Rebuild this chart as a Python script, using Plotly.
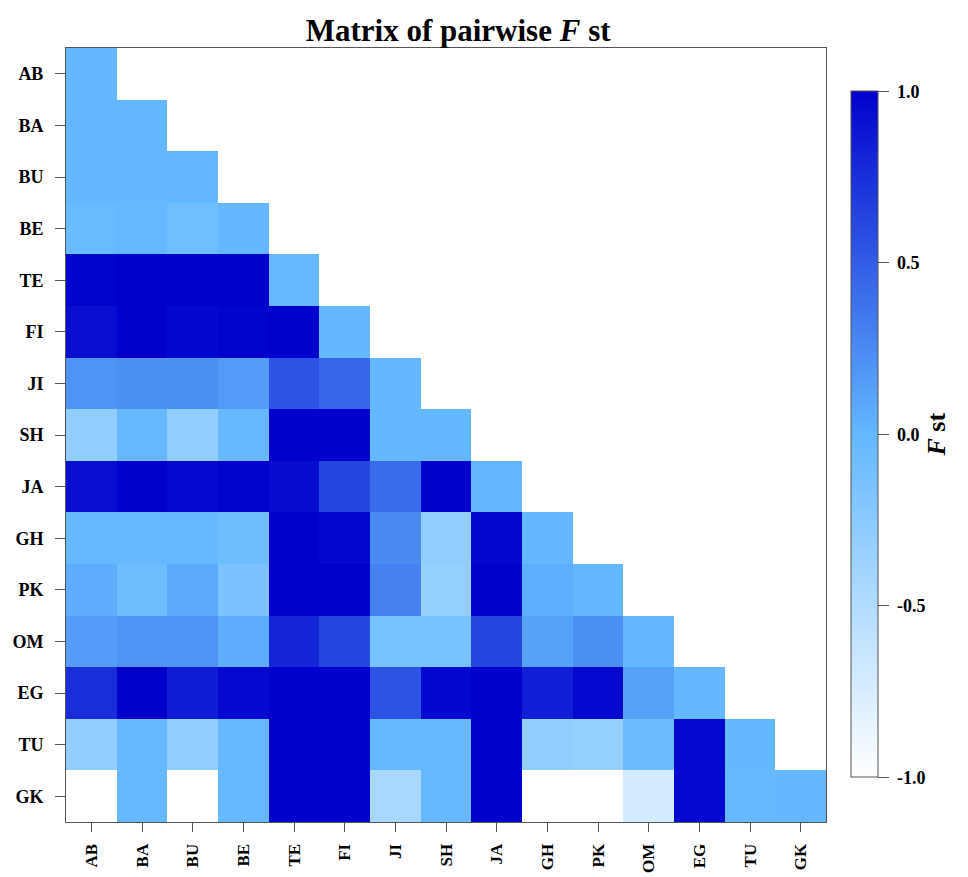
import plotly.graph_objects as go

pops = ["AB", "BA", "BU", "BE", "TE", "FI", "JI", "SH", "JA", "GH", "PK", "OM", "EG", "TU", "GK"]

# lower-triangular pairwise Fst rows (row i has i+1 values)
row_AB = [0.0]
row_BA = [0.0, 0.0]
row_BU = [0.0, 0.0, 0.0]
row_BE = [-0.04, -0.02, -0.08, 0.0]
row_TE = [0.99, 1.0, 1.0, 1.0, -0.02]
row_FI = [0.93, 1.0, 0.96, 0.98, 1.0, 0.0]
row_JI = [0.2, 0.22, 0.22, 0.16, 0.55, 0.45, 0.0]
row_SH = [-0.3, -0.02, -0.3, -0.02, 1.0, 1.0, 0.0, 0.0]
row_JA = [0.93, 1.0, 0.95, 0.98, 0.94, 0.62, 0.42, 1.0, 0.0]
row_GH = [-0.02, -0.02, -0.02, -0.07, 1.0, 0.96, 0.25, -0.3, 0.97, 0.0]
row_PK = [0.06, -0.06, 0.08, -0.15, 1.0, 1.0, 0.3, -0.32, 1.0, 0.05, 0.0]
row_OM = [0.15, 0.2, 0.2, 0.06, 0.8, 0.62, -0.12, -0.12, 0.62, 0.12, 0.22, 0.0]
row_EG = [0.75, 1.0, 0.85, 0.95, 1.0, 1.0, 0.55, 0.96, 1.0, 0.83, 0.95, 0.12, 0.0]
row_TU = [-0.3, -0.02, -0.3, -0.02, 1.0, 1.0, -0.02, -0.02, 1.0, -0.3, -0.32, -0.05, 0.95, 0.0]
row_GK = [-1.0, -0.02, -1.0, -0.02, 1.0, 1.0, -0.45, -0.02, 1.0, -1.0, -1.0, -0.72, 0.95, -0.02, 0.0]

rows = [row_AB, row_BA, row_BU, row_BE, row_TE, row_FI, row_JI, row_SH,
        row_JA, row_GH, row_PK, row_OM, row_EG, row_TU, row_GK]

cbar_vals = [-1, -0.5, 0, 0.5, 1]
cbar_text = ["-1.0", "-0.5", "0.0", "0.5", "1.0"]

n = len(pops)
z = [r + [None] * (n - len(r)) for r in rows]

serif = "Liberation Serif"

fig = go.Figure(go.Heatmap(
    z=z, x=pops, y=pops,
    zmin=-1, zmax=1,
    colorscale=[[0.0, "#FFFFFF"], [0.5, "#63B8FF"], [1.0, "#0000CD"]],
    hoverongaps=False,
    colorbar=dict(
        x=1.033, xanchor="left", xpad=0,
        y=0.501, yanchor="middle", ypad=0,
        len=0.886, lenmode="fraction",
        thickness=27,
        outlinewidth=1, outlinecolor="#555555",
        ticks="outside", ticklen=11, tickcolor="#555555",
        tickvals=cbar_vals,
        ticktext=["\u00a0" + t for t in cbar_text],
        tickfont=dict(family=serif, size=18, color="black", weight="bold"),
        title=dict(text="<i>F</i> st", side="right",
                   font=dict(family=serif, size=26, color="black", weight="bold")),
    ),
))

fig.update_layout(
    width=968, height=877,
    margin=dict(l=58, r=150, t=40, b=63, autoexpand=False),
    paper_bgcolor="white", plot_bgcolor="white",
    title=dict(text="Matrix of pairwise <i>F</i> st", x=0.465, xanchor="center",
               y=0.975, yanchor="middle",
               font=dict(family=serif, size=31, color="black", weight="bold")),
)
fig.update_xaxes(
    type="category", automargin=False,
    showline=True, linecolor="#555555", linewidth=1, mirror=True,
    ticks="outside", ticklen=9, tickcolor="#555555", showgrid=False, zeroline=False,
    ticklabelstandoff=5,
    tickangle=-90, tickfont=dict(family=serif, size=17, color="black", weight="bold"),
)
fig.update_yaxes(
    type="category", automargin=False, autorange="reversed",
    showline=True, linecolor="#555555",
    linewidth=1, mirror=True, ticks="outside", ticklen=10, tickcolor="#555555",
    showgrid=False, zeroline=False, ticklabelstandoff=8,
    tickfont=dict(family=serif, size=18, color="black", weight="bold"),
)

fig.write_html("out.html")
